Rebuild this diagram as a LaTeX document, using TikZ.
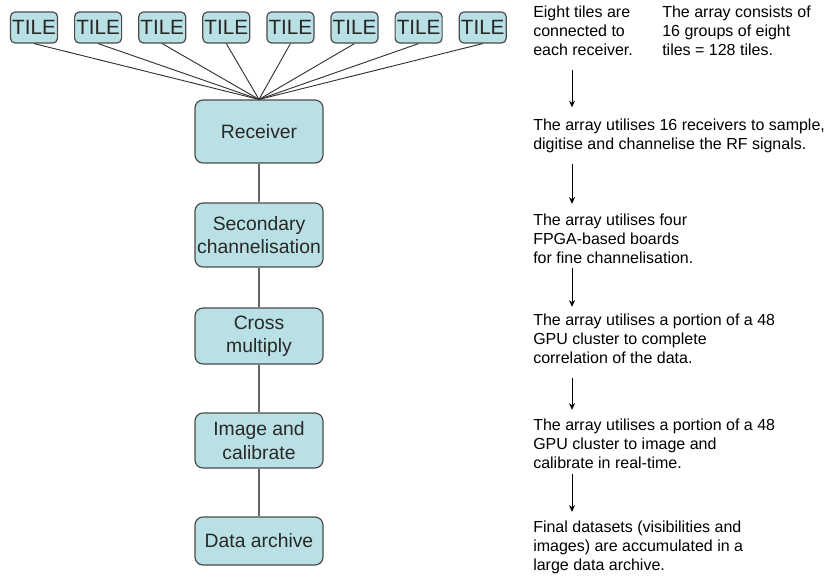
\documentclass[tikz,border=0pt]{standalone}
\usepackage{fontspec}
\setmainfont{Liberation Sans}
\usetikzlibrary{arrows.meta, calc, positioning}
\definecolor{boxfill}{RGB}{185,224,228}
\definecolor{boxline}{RGB}{75,75,75}
\definecolor{boxtext}{RGB}{40,40,40}

\begin{document}
\begin{tikzpicture}[x=0.75pt, y=-0.75pt,
    tilebox/.style={draw=boxline, fill=boxfill, rounded corners=3.5pt, line width=0.9pt,
      minimum width=35.25pt, minimum height=23.25pt, inner sep=0pt, text=boxtext,
      font=\fontsize{15.5}{17}\selectfont},
    stagebox/.style={draw=boxline, fill=boxfill, rounded corners=6pt, line width=0.9pt,
      minimum width=96pt, inner sep=0pt, align=center, text=boxtext,
      font=\fontsize{14.5}{17.5}\selectfont},
    note/.style={anchor=north west, inner sep=0pt, align=left,
      font=\fontsize{12}{14.3}\selectfont},
    fan/.style={draw=black!80, line width=0.7pt},
    link/.style={draw=black!60, line width=1pt},
    flow/.style={-{Stealth[length=5pt,width=4.5pt]}, line width=0.6pt}]
    \useasboundingbox (0,0) rectangle (824,576);

    % tiles along the top
    \foreach \i in {1,...,8}
        \node[tilebox] (tile\i) at ({34+64.1*(\i-1)},27.5) {TILE};

    % processing chain
    \node[stagebox, minimum height=47.25pt] (rec) at (259,131.5) {Receiver};
    \node[stagebox, minimum height=48pt] (chan) at (259,235) {Secondary\\channelisation};
    \node[stagebox, minimum height=42pt] (xmult) at (259,336) {Cross\\multiply};
    \node[stagebox, minimum height=41.25pt] (imcal) at (259,440.5) {Image and\\calibrate};
    \node[stagebox, minimum height=36pt] (archive) at (259,541) {Data archive};

    % connections
    \foreach \i in {1,...,8}
        \draw[fan] (tile\i.south) -- (rec.north);
    \draw[link] (rec.south) -- (chan.north);
    \draw[link] (chan.south) -- (xmult.north);
    \draw[link] (xmult.south) -- (imcal.north);
    \draw[link] (imcal.south) -- (archive.north);

    % notes on the right
    \node[note] (noteA) at (533,5.3) {Eight tiles are\\connected to\\each receiver.};
    \node[note] (noteB) at (662,5.3) {The array consists of\\16 groups of eight\\tiles = 128 tiles.};
    \node[note] (noteC) at (533,118.3) {The array utilises 16 receivers to sample,\\digitise and channelise the RF signals.};
    \node[note] (noteD) at (533,213.3) {The array utilises four\\FPGA-based boards\\for fine channelisation.};
    \node[note] (noteE) at (533,313.3) {The array utilises a portion of a 48\\GPU cluster to complete\\correlation of the data.};
    \node[note] (noteF) at (533,418.3) {The array utilises a portion of a 48\\GPU cluster to image and\\calibrate in real-time.};
    \node[note] (noteG) at (533,520.3) {Final datasets (visibilities and\\images) are accumulated in a\\large data archive.};

    % arrows between notes
    \coordinate (ax) at (572,0);
    \draw[flow] ($(noteA.south -| ax)+(0,14)$) -- ($(noteC.north -| ax)-(0,11)$);
    \draw[flow] ($(noteC.south -| ax)+(0,11)$) -- ($(noteD.north -| ax)-(0,9.5)$);
    \draw[flow] ($(noteD.south -| ax)+(0,4)$) -- ($(noteE.north -| ax)-(0,6.5)$);
    \draw[flow] ($(noteE.south -| ax)+(0,14)$) -- ($(noteF.north -| ax)-(0,8.5)$);
    \draw[flow] ($(noteF.south -| ax)+(0,5)$) -- ($(noteG.north -| ax)-(0,8.5)$);
\end{tikzpicture}
\end{document}
